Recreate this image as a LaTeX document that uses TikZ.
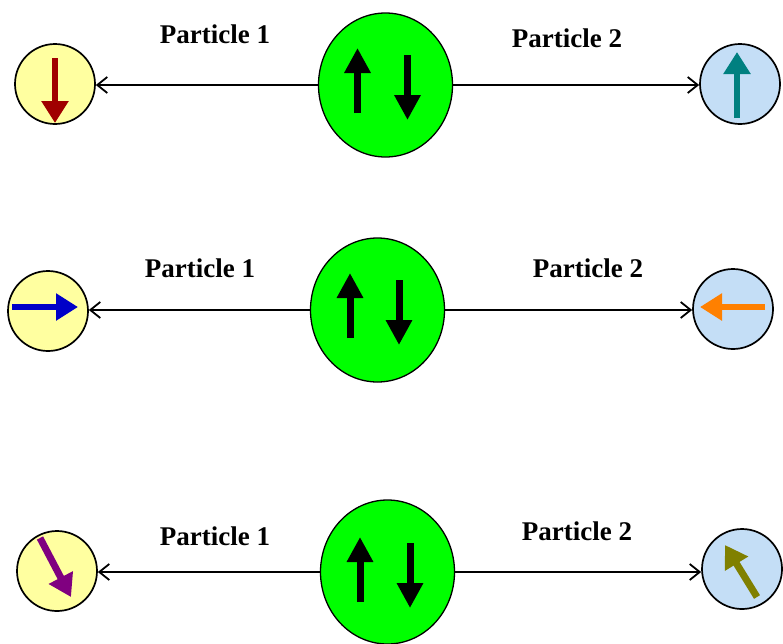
\documentclass[tikz,border=0pt]{standalone}
\usepackage{fontspec}
\setmainfont{Liberation Serif}
\usetikzlibrary{shapes.geometric,arrows.meta}
\definecolor{pairgreen}{RGB}{0,255,0}
\definecolor{pyellow}{RGB}{255,255,160}
\definecolor{pblue}{RGB}{196,222,246}
\definecolor{sdarkred}{RGB}{160,0,0}
\definecolor{steal}{RGB}{0,128,128}
\definecolor{sblue}{RGB}{0,0,200}
\definecolor{sorange}{RGB}{255,128,0}
\definecolor{spurple}{RGB}{128,0,128}
\definecolor{solive}{RGB}{128,128,0}
\tikzset{
  pair/.style={ellipse, draw=black, line width=1.3pt, fill=pairgreen, minimum width=134pt, minimum height=144pt, inner sep=0pt},
  pone/.style={circle, draw=black, line width=1.7pt, fill=pyellow, minimum size=80pt, inner sep=0pt},
  ptwo/.style={circle, draw=black, line width=1.7pt, fill=pblue, minimum size=80pt, inner sep=0pt},
  conn/.style={line width=1.8pt, -{Straight Barb[length=10pt,width=16pt]}},
  bigspin/.style={line width=7pt, -{Triangle[length=25pt,width=25pt]}},
  smallspin/.style={line width=6pt, -{Triangle[length=22pt,width=26pt]}},
  lab/.style={font=\fontsize{27}{30}\selectfont\bfseries, anchor=base, inner sep=0pt}
}
\begin{document}
\begin{tikzpicture}[x=1pt,y=-1pt]
\useasboundingbox (0,0) rectangle (783,643);
% row 1
\node[pair] (g1) at (385.5,85) {};
\node[pone] (l1) at (55,84) {};
\node[ptwo] (r1) at (740,84) {};
\draw[conn] (g1.west) -- (l1.east |- g1.west);
\draw[conn] (g1.east) -- (r1.west |- g1.east);
\draw[bigspin] ([shift={(-28,28)}]g1.center) -- ([shift={(-28,-37)}]g1.center);
\draw[bigspin] ([shift={(22,-30)}]g1.center) -- ([shift={(22,35)}]g1.center);
\draw[smallspin, sdarkred] ([shift={(0,-26)}]l1.center) -- ([shift={(0,39)}]l1.center);
\draw[smallspin, steal] ([shift={(-3,34)}]r1.center) -- ([shift={(-3,-32)}]r1.center);
\node[lab] (t1a) at (215,43) {Particle 1};
\node[lab] (t1b) at (567,47) {Particle 2};
% row 2
\node[pair] (g2) at (377.5,310) {};
\node[pone] (l2) at (48,311) {};
\node[ptwo] (r2) at (733,309) {};
\draw[conn] (g2.west) -- (l2.east |- g2.west);
\draw[conn] (g2.east) -- (r2.west |- g2.east);
\draw[bigspin] ([shift={(-27.5,28)}]g2.center) -- ([shift={(-27.5,-37)}]g2.center);
\draw[bigspin] ([shift={(21.5,-30)}]g2.center) -- ([shift={(21.5,35)}]g2.center);
\draw[smallspin, sblue] ([shift={(-36,-4)}]l2.center) -- ([shift={(30,-4)}]l2.center);
\draw[smallspin, sorange] ([shift={(32,-2)}]r2.center) -- ([shift={(-33,-2)}]r2.center);
\node[lab] (t2a) at (200,277) {Particle 1};
\node[lab] (t2b) at (588,277) {Particle 2};
% row 3
\node[pair] (g3) at (387.5,572) {};
\node[pone] (l3) at (57,571) {};
\node[ptwo] (r3) at (742,569) {};
\draw[conn] (g3.west) -- (l3.east |- g3.west);
\draw[conn] (g3.east) -- (r3.west |- g3.east);
\draw[bigspin] ([shift={(-27.5,30)}]g3.center) -- ([shift={(-27.5,-35)}]g3.center);
\draw[bigspin] ([shift={(22.5,-29)}]g3.center) -- ([shift={(22.5,36)}]g3.center);
\draw[smallspin, spurple, line width=7pt] ([shift={(-17,-33)}]l3.center) -- ([shift={(14,26)}]l3.center);
\draw[smallspin, solive, line width=7pt] ([shift={(15,28)}]r3.center) -- ([shift={(-17,-24)}]r3.center);
\node[lab] (t3a) at (215,545) {Particle 1};
\node[lab] (t3b) at (577,540) {Particle 2};
\end{tikzpicture}
\end{document}
